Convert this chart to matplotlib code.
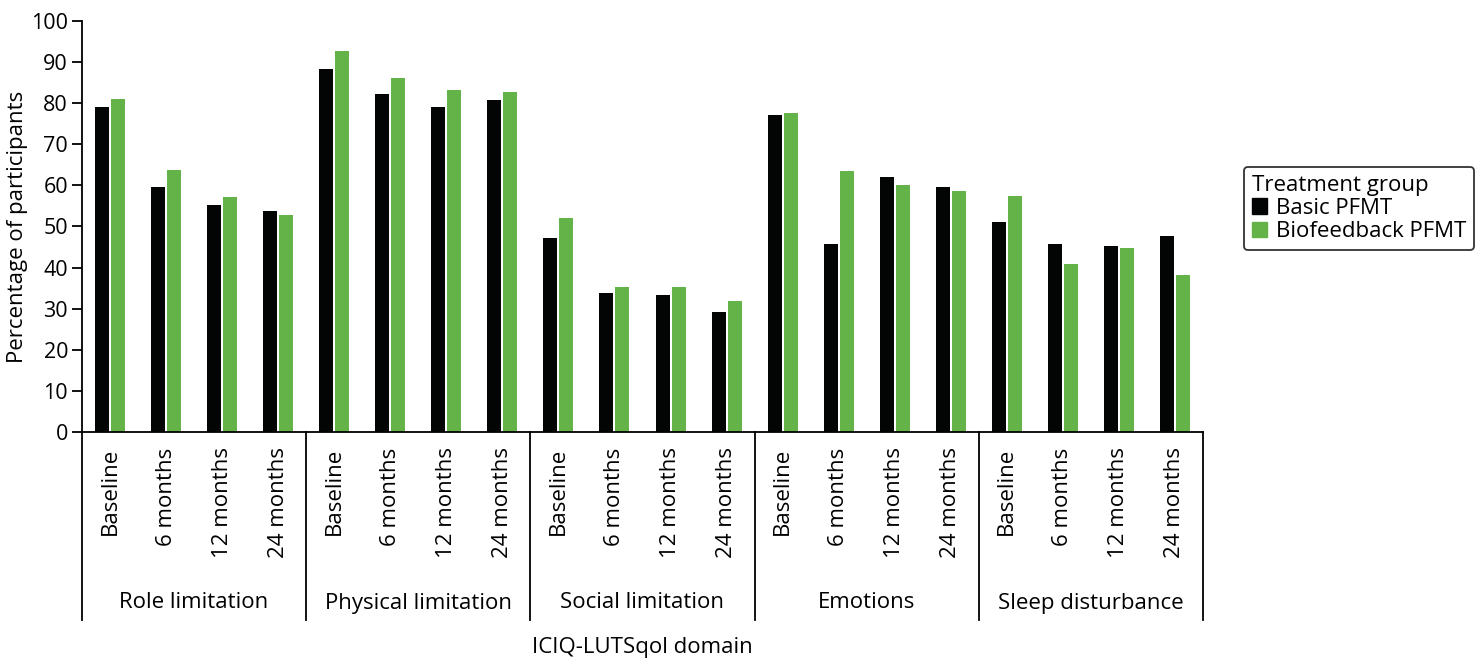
import numpy as np
import matplotlib
matplotlib.use("Agg")
import matplotlib.pyplot as plt
from matplotlib.patches import Patch

plt.rcParams['font.family'] = ['Open Sans', 'DejaVu Sans']

domains = ["Role limitation", "Physical limitation", "Social limitation", "Emotions", "Sleep disturbance"]
timepoints = ["Baseline", "6 months", "12 months", "24 months"]

basic_pfmt = [79.0, 59.6, 55.3, 53.8,
              88.3, 82.3, 79.1, 80.8,
              47.2, 33.9, 33.4, 29.2,
              77.1, 45.8, 62.1, 59.6,
              51.1, 45.8, 45.3, 47.7]
biofeedback_pfmt = [81.0, 63.8, 57.2, 52.8,
                    92.7, 86.2, 83.2, 82.7,
                    52.1, 35.3, 35.3, 31.9,
                    77.6, 63.5, 60.1, 58.7,
                    57.4, 40.9, 44.8, 38.2]

black = "#030504"
green = "#63b348"
fs = 16

fig = plt.figure(figsize=(14.82, 6.61), dpi=100)
ax = fig.add_axes([82 / 1482, 1 - 432 / 661, (1203 - 82) / 1482, (432 - 21) / 661])

x = np.arange(len(basic_pfmt))
w = 0.25
ax.bar(x - 0.143, basic_pfmt, w, color=black, label="Basic PFMT")
ax.bar(x + 0.143, biofeedback_pfmt, w, color=green, label="Biofeedback PFMT")

ax.set_xlim(-0.5, len(x) - 0.5)
ax.set_ylim(0, 100)
ax.set_yticks(np.arange(0, 101, 10))
ax.tick_params(axis="y", labelsize=15.5, length=7, width=1.3, pad=3)
ax.set_ylabel("Percentage of participants", fontsize=fs, labelpad=2)

ax.set_xticks(x)
ax.set_xticklabels(timepoints * len(domains), rotation=90, fontsize=fs, va="top")
ax.tick_params(axis="x", length=0, pad=11)

for s in ["top", "right"]:
    ax.spines[s].set_visible(False)
ax.spines["left"].set_linewidth(1.3)
ax.spines["bottom"].set_linewidth(1.3)

# group separators and domain labels below the axis
trans = ax.get_xaxis_transform()
sep_bottom = -(620 - 432) / (432 - 21)
for g in range(len(domains) + 1):
    xb = g * 4 - 0.5
    ax.plot([xb, xb], [0, sep_bottom], transform=trans, color="black", lw=1.3, clip_on=False)
lab_y = -(603 - 432) / (432 - 21)
for g, name in enumerate(domains):
    ax.text(g * 4 + 1.5, lab_y, name, transform=trans, ha="center", va="center", fontsize=fs)

ax.text(0.5, -(648 - 432) / (432 - 21), "ICIQ-LUTSqol domain", transform=ax.transAxes,
        ha="center", va="center", fontsize=fs)

handles = [Patch(color=black, label="Basic PFMT"), Patch(color=green, label="Biofeedback PFMT")]
leg = fig.legend(handles=handles, title="Treatment group", loc="upper left",
                 bbox_to_anchor=(1244 / 1482, 1 - 167 / 661), fontsize=fs, title_fontsize=fs,
                 frameon=True, fancybox=True, edgecolor="black", handlelength=0.7,
                 handleheight=0.7, handletextpad=0.4, borderpad=0.35, labelspacing=0.1,
                 alignment="left", borderaxespad=0)
leg.get_frame().set_linewidth(1.3)

fig.savefig("out.png", dpi=100)
